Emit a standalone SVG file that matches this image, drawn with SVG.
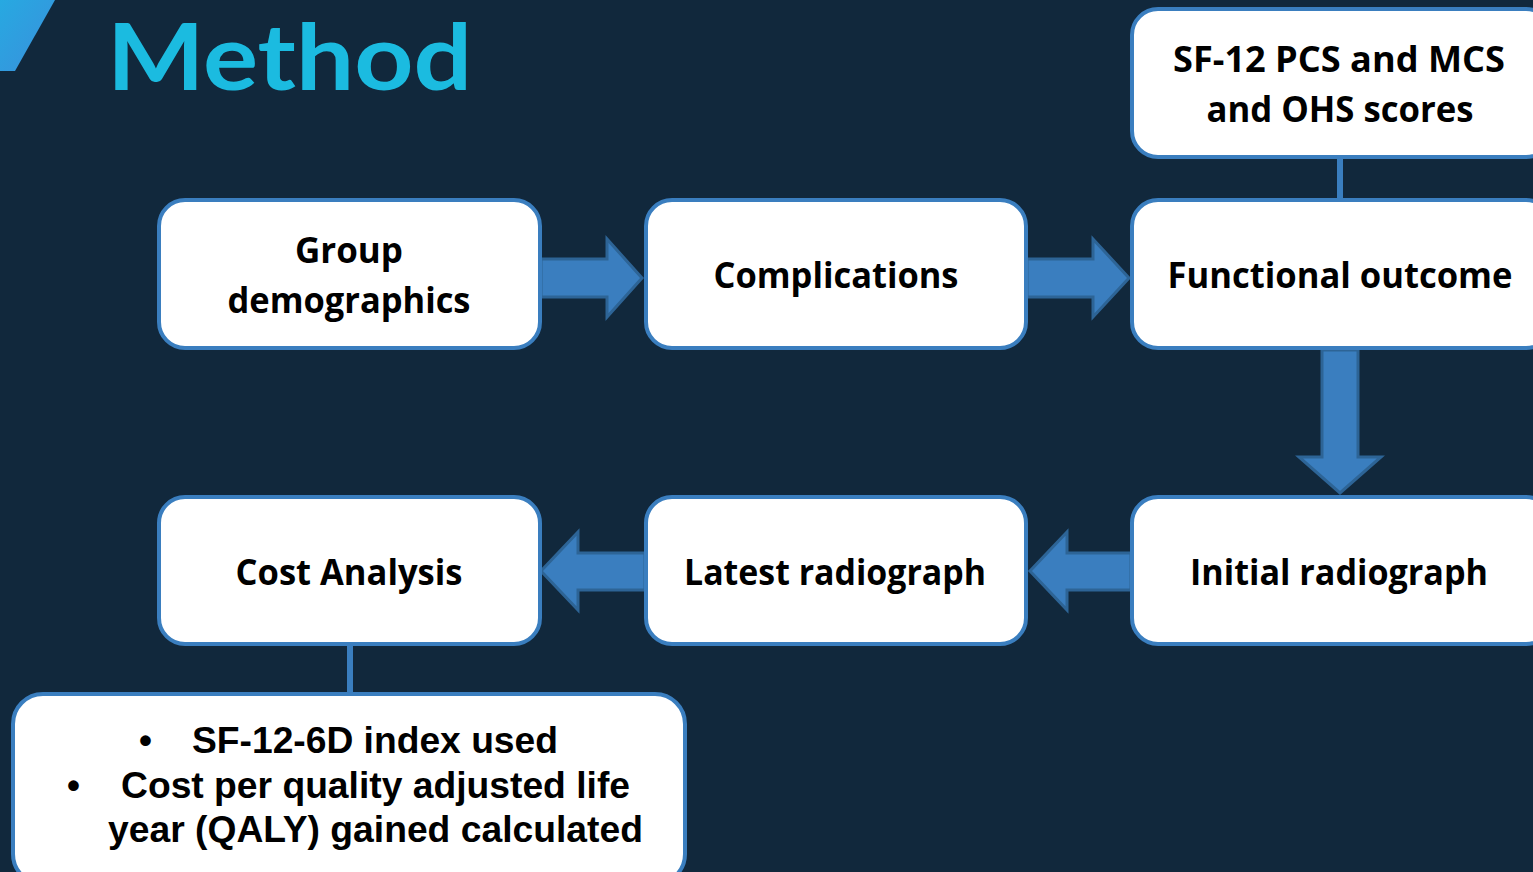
<svg xmlns="http://www.w3.org/2000/svg" width="1533" height="872" viewBox="0 0 1533 872">
  <defs>
    <linearGradient id="cornerGrad" x1="0" y1="0" x2="1" y2="1">
      <stop offset="0" stop-color="#27a9e1"/>
      <stop offset="1" stop-color="#3a8fdc"/>
    </linearGradient>
    <style>
      .box { fill: #ffffff; stroke: #3a7ebf; stroke-width: 4; }
      .lbl { font-family: "Open Sans", "Lato", sans-serif; font-weight: 700; font-size: 35px; fill: #000000; text-anchor: middle; }
      .note { font-family: "Liberation Sans Narrow", "Liberation Sans", Arial, sans-serif; font-weight: 700; font-size: 37px; fill: #000000; }
      .arrow { fill: #3a7ebf; stroke: #2d6496; stroke-width: 3; stroke-linejoin: miter; }
      .link { stroke: #3a7ebf; stroke-width: 6; fill: none; }
      .title { font-family: "Lato", "Open Sans", sans-serif; font-weight: 700; font-size: 92px; fill: #1bbbe0; }
    </style>
  </defs>

  <!-- background -->
  <rect x="0" y="0" width="1533" height="872" fill="#11283c"/>
  <polygon points="0,0 55,0 15,71 0,71" fill="url(#cornerGrad)"/>
  <text class="title" x="107" y="90" textLength="365" lengthAdjust="spacingAndGlyphs">Method</text>

  <!-- connectors -->
  <g id="connectors">
    <line class="link" x1="1340" y1="156" x2="1340" y2="201"/>
    <line class="link" x1="350" y1="643" x2="350" y2="695"/>
    <polygon class="arrow" points="541,259 607,259 607,239 642,278 607,317 607,297 541,297"/>
    <polygon class="arrow" points="1027,259 1093,259 1093,239 1129,278 1093,317 1093,297 1027,297"/>
    <polygon class="arrow" points="1322,350 1358,350 1358,457 1381,457 1340,493 1299,457 1322,457"/>
    <polygon class="arrow" points="645,553 578,553 578,532 541,571 578,610 578,590 645,590"/>
    <polygon class="arrow" points="1131,553 1067,553 1067,532 1030,571 1067,610 1067,590 1131,590"/>
  </g>

  <g id="node-demographics">
    <rect class="box" x="159" y="200" width="381" height="148" rx="26"/>
    <text class="lbl" x="349" y="263" textLength="108" lengthAdjust="spacingAndGlyphs">Group</text>
    <text class="lbl" x="349" y="313" textLength="243" lengthAdjust="spacingAndGlyphs">demographics</text>
  </g>

  <g id="node-complications">
    <rect class="box" x="646" y="200" width="380" height="148" rx="26"/>
    <text class="lbl" x="836" y="288" textLength="245" lengthAdjust="spacingAndGlyphs">Complications</text>
  </g>

  <g id="node-functional">
    <rect class="box" x="1132" y="200" width="420" height="148" rx="26"/>
    <text class="lbl" x="1340" y="288" textLength="345" lengthAdjust="spacingAndGlyphs">Functional outcome</text>
  </g>

  <g id="node-scores">
    <rect class="box" x="1132" y="9" width="420" height="148" rx="26"/>
    <text class="lbl" x="1339" y="72" textLength="332" lengthAdjust="spacingAndGlyphs">SF-12 PCS and MCS</text>
    <text class="lbl" x="1340" y="122" textLength="267" lengthAdjust="spacingAndGlyphs">and OHS scores</text>
  </g>

  <g id="node-cost">
    <rect class="box" x="159" y="497" width="381" height="147" rx="26"/>
    <text class="lbl" x="349" y="585" textLength="227" lengthAdjust="spacingAndGlyphs">Cost Analysis</text>
  </g>

  <g id="node-latest">
    <rect class="box" x="646" y="497" width="380" height="147" rx="26"/>
    <text class="lbl" x="835" y="585" textLength="302" lengthAdjust="spacingAndGlyphs">Latest radiograph</text>
  </g>

  <g id="node-initial">
    <rect class="box" x="1132" y="497" width="420" height="147" rx="26"/>
    <text class="lbl" x="1339" y="585" textLength="298" lengthAdjust="spacingAndGlyphs">Initial radiograph</text>
  </g>

  <g id="node-qaly">
    <rect class="box" x="13" y="694" width="672" height="190" rx="30"/>
    <text class="note" x="139" y="753">•</text>
    <text class="note" x="192" y="753" textLength="366" lengthAdjust="spacingAndGlyphs">SF-12-6D index used</text>
    <text class="note" x="67" y="798">•</text>
    <text class="note" x="121" y="798" textLength="509" lengthAdjust="spacingAndGlyphs">Cost per quality adjusted life</text>
    <text class="note" x="108" y="842" textLength="535" lengthAdjust="spacingAndGlyphs">year (QALY) gained calculated</text>
  </g>
</svg>
